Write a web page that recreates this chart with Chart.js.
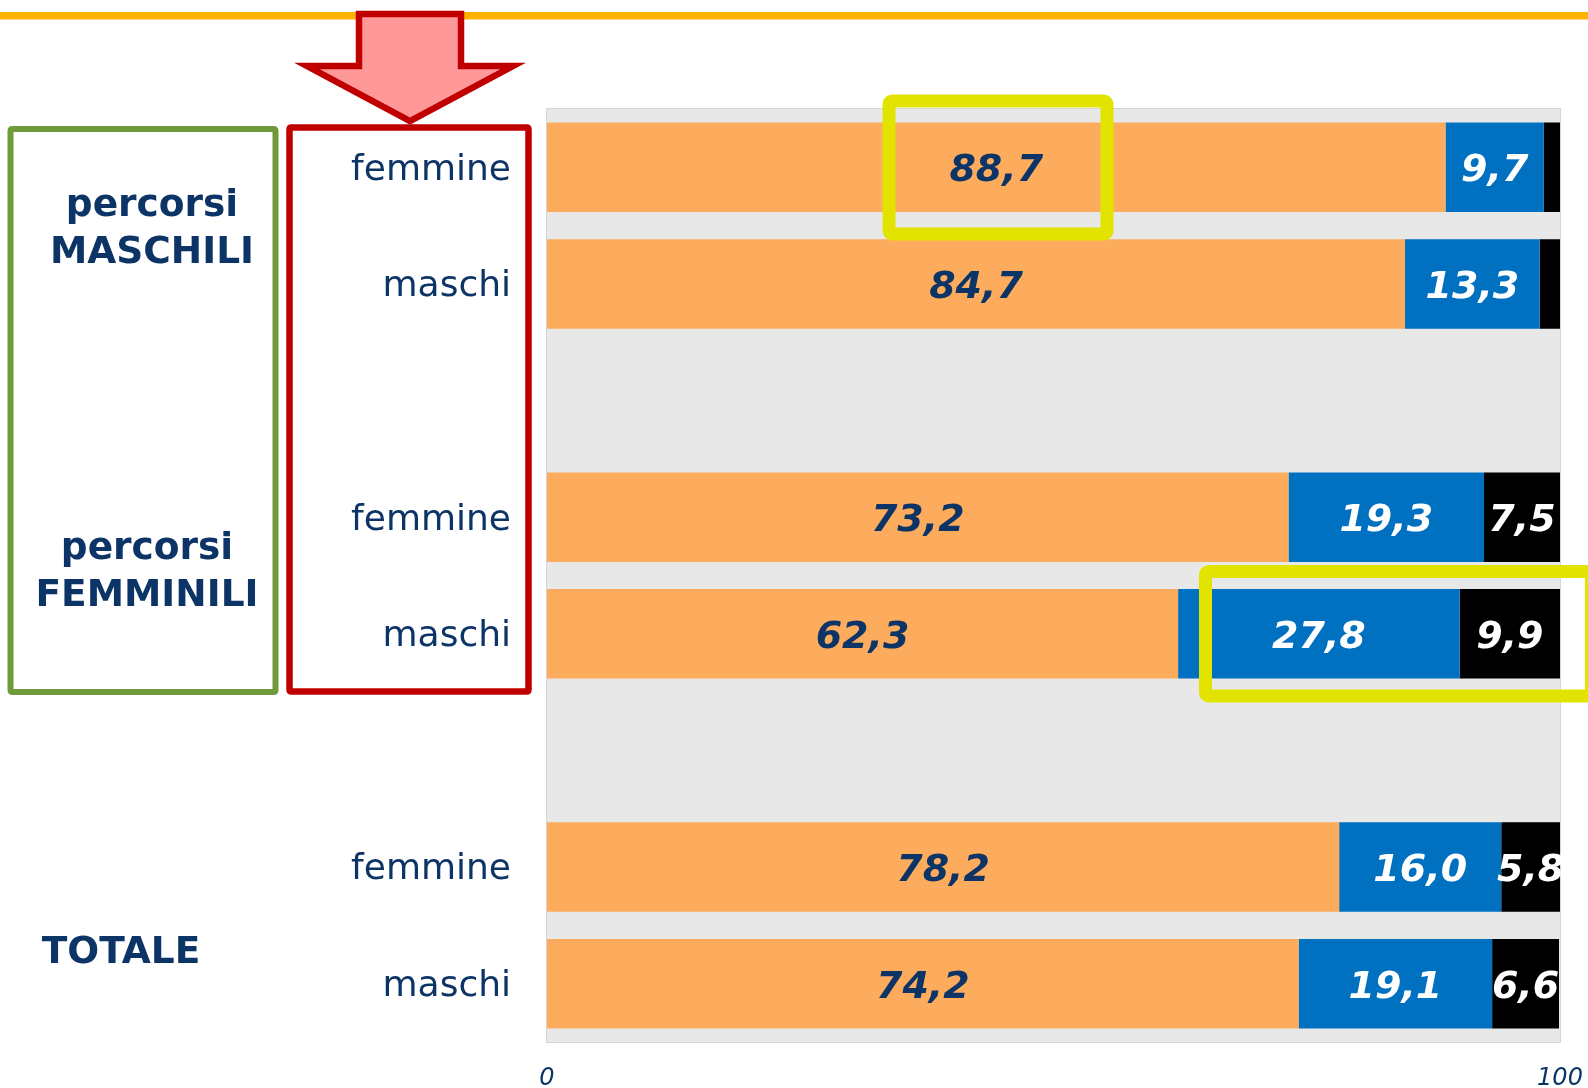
<!DOCTYPE html>
<html>
<head>
<meta charset="utf-8">
<script src="https://cdn.jsdelivr.net/npm/chart.js@4.4.1/dist/chart.umd.min.js"></script>
<style>
  html, body { margin: 0; padding: 0; background: #fff; }
  #wrap { width: 1588px; height: 1088px; }
</style>
</head>
<body>
<div id="wrap"><canvas id="myChart" width="1588" height="1088"></canvas></div>
<script>
// rows (empty strings are the gaps between groups)
const rowLabels = ['femmine', 'maschi', '', 'femmine', 'maschi', '', 'femmine', 'maschi'];
const valuesOrange = [88.7, 84.7, null, 73.2, 62.3, null, 78.2, 74.2];
const valuesBlue = [9.7, 13.3, null, 19.3, 27.8, null, 16.0, 19.1];
const valuesBlack = [1.6, 2.0, null, 7.5, 9.9, null, 5.8, 6.6];
const groupTitles = [['percorsi', 'MASCHILI'], ['percorsi', 'FEMMINILI'], ['TOTALE']];
const axisTicks = [0, 100];

const NAVY = '#0D3466';
const FONT = '"DejaVu Sans", Verdana, sans-serif';

const ctx = document.getElementById('myChart').getContext('2d');

const areaBackground = {
  id: 'areaBackground',
  beforeDatasetsDraw(chart) {
    const { ctx, chartArea: a } = chart;
    ctx.save();
    ctx.fillStyle = '#E8E8E8';
    ctx.fillRect(a.left, a.top, a.width, a.height);
    ctx.strokeStyle = '#D6D6D6';
    ctx.lineWidth = 1;
    ctx.strokeRect(a.left - 0.5, a.top - 0.5, a.width + 1, a.height + 1);
    ctx.restore();
  },
};

// value labels centered in each segment, small ones skipped
const segmentLabels = {
  id: 'segmentLabels',
  afterDatasetsDraw(chart) {
    const { ctx } = chart;
    ctx.save();
    ctx.font = `italic bold 38px ${FONT}`;
    ctx.textAlign = 'center';
    ctx.textBaseline = 'middle';
    chart.data.datasets.forEach((ds, i) => {
      const meta = chart.getDatasetMeta(i);
      meta.data.forEach((bar, j) => {
        const v = ds.data[j];
        if (v == null || v < 5) return;
        ctx.fillStyle = ds.labelColor;
        ctx.fillText(v.toFixed(1).replace('.', ','), (bar.x + bar.base) / 2, bar.y + 4);
      });
    });
    ctx.restore();
  },
};

function roundRect(c, x, y, w, h, r) {
  c.beginPath();
  c.moveTo(x + r, y);
  c.lineTo(x + w - r, y);
  c.quadraticCurveTo(x + w, y, x + w, y + r);
  c.lineTo(x + w, y + h - r);
  c.quadraticCurveTo(x + w, y + h, x + w - r, y + h);
  c.lineTo(x + r, y + h);
  c.quadraticCurveTo(x, y + h, x, y + h - r);
  c.lineTo(x, y + r);
  c.quadraticCurveTo(x, y, x + r, y);
  c.closePath();
}

const decorations = {
  id: 'decorations',
  afterDraw(chart) {
    const { ctx } = chart;
    ctx.save();

    // orange rule at the top
    ctx.fillStyle = '#FFB300';
    ctx.fillRect(0, 12, chart.width, 7.5);

    // red arrow
    ctx.beginPath();
    ctx.moveTo(359, 14);
    ctx.lineTo(461, 14);
    ctx.lineTo(461, 66);
    ctx.lineTo(513, 66);
    ctx.lineTo(410, 121);
    ctx.lineTo(307, 66);
    ctx.lineTo(359, 66);
    ctx.closePath();
    ctx.fillStyle = '#FF9999';
    ctx.fill();
    ctx.strokeStyle = '#C00000';
    ctx.lineWidth = 6.5;
    ctx.lineJoin = 'miter';
    ctx.stroke();

    // green and red frames
    ctx.lineJoin = 'round';
    ctx.strokeStyle = '#6E9A3A';
    ctx.lineWidth = 6;
    roundRect(ctx, 10.5, 129, 265, 563, 2);
    ctx.stroke();
    ctx.strokeStyle = '#C00000';
    ctx.lineWidth = 6.5;
    roundRect(ctx, 289.5, 127.5, 239, 564, 2);
    ctx.stroke();

    // group titles
    ctx.fillStyle = NAVY;
    ctx.font = `bold 37.5px ${FONT}`;
    ctx.textAlign = 'center';
    ctx.textBaseline = 'alphabetic';
    ctx.fillText(groupTitles[0][0], 152, 216);
    ctx.fillText(groupTitles[0][1], 152, 263);
    ctx.fillText(groupTitles[1][0], 147, 559);
    ctx.fillText(groupTitles[1][1], 147, 606);
    ctx.fillText(groupTitles[2][0], 121, 963);

    // yellow highlight boxes
    ctx.strokeStyle = '#E2E400';
    ctx.lineWidth = 13;
    roundRect(ctx, 889, 101, 218, 133, 4);
    ctx.stroke();
    roundRect(ctx, 1205.5, 571.5, 386, 124.5, 4);
    ctx.stroke();

    ctx.restore();
  },
};

// drop the label overhang padding so the plot area keeps its size
function clearPadding(scale) {
  scale.paddingLeft = 0;
  scale.paddingRight = 0;
  scale.paddingTop = 0;
  scale.paddingBottom = 0;
}

const myChart = new Chart(ctx, {
  type: 'bar',
  data: {
    labels: rowLabels,
    datasets: [
      { data: valuesOrange, backgroundColor: '#FDAC5D', labelColor: NAVY },
      { data: valuesBlue, backgroundColor: '#0070C0', labelColor: '#FFFFFF' },
      { data: valuesBlack, backgroundColor: '#000000', labelColor: '#FFFFFF' },
    ],
  },
  options: {
    indexAxis: 'y',
    responsive: false,
    animation: false,
    layout: { padding: { top: 109, right: 28, left: 0, bottom: 0 } },
    datasets: {
      bar: { categoryPercentage: 1, barPercentage: 0.767, borderWidth: 0 },
    },
    plugins: {
      legend: { display: false },
      tooltip: { enabled: false },
    },
    scales: {
      x: {
        stacked: true,
        min: 0,
        max: 100,
        afterBuildTicks: (scale) => { scale.ticks = axisTicks.map((v) => ({ value: v })); },
        afterFit: (scale) => { scale.height = 46; clearPadding(scale); },
        grid: { display: false, drawTicks: false },
        border: { display: false },
        ticks: {
          padding: 22,
          maxRotation: 0,
          color: NAVY,
          font: { family: FONT, size: 24, style: 'italic' },
        },
      },
      y: {
        stacked: true,
        afterFit: (scale) => { scale.width = 547; clearPadding(scale); },
        grid: { display: false, drawTicks: false },
        border: { display: false },
        ticks: {
          padding: 36,
          labelOffset: 3,
          color: NAVY,
          font: { family: FONT, size: 36 },
        },
      },
    },
  },
  plugins: [areaBackground, segmentLabels, decorations],
});
</script>
</body>
</html>
